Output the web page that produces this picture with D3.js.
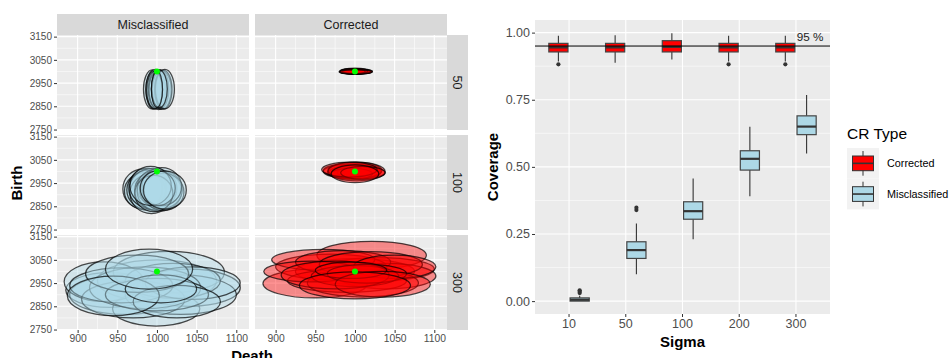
<!DOCTYPE html>
<html>
<head>
<meta charset="utf-8">
<script src="https://cdn.jsdelivr.net/npm/d3@7"></script>
<style>
  body { margin: 0; background: #fff; }
  svg { display: block; font-family: "Liberation Sans", Arial, Helvetica, sans-serif; }
</style>
</head>
<body>
<svg id="chart" width="951" height="358"></svg>
<script>
// ---------- Confidence regions (left figure) ----------
const crTypes = ["Misclassified", "Corrected"];
const sigmaRows = ["50", "100", "300"];
const trueDeath = 1000;
const trueBirth = 3000;
const deathTicks = [900, 950, 1000, 1050, 1100];
const deathMinor = [925, 975, 1025, 1075];
const birthTicks = [2750, 2850, 2950, 3050, 3150];
const birthMinor = [2800, 2900, 3000, 3100];

// each region: [centre death, centre birth, half-width (death), half-height (birth)]
const misclassified50 = [
  [994, 2923, 11, 84], [996, 2921, 10, 83], [998, 2924, 12, 85], [1000, 2922, 11, 82],
  [1002, 2920, 12, 84], [1004, 2923, 11, 85], [1006, 2921, 12, 83], [1008, 2922, 11, 84],
  [1010, 2924, 12, 85], [997, 2920, 10, 80], [1003, 2925, 10, 81], [1000, 2923, 7, 78]
];
const misclassified100 = [
  [982, 2925, 25, 85], [985, 2915, 26, 80], [988, 2930, 24, 83], [990, 2920, 28, 86],
  [993, 2905, 27, 86], [995, 2925, 30, 88], [998, 2918, 26, 84], [1000, 2930, 25, 80],
  [1003, 2915, 28, 86], [1005, 2922, 27, 83], [1008, 2912, 26, 80], [1006, 2935, 25, 82],
  [996, 2905, 24, 78], [992, 2938, 26, 84], [1001, 2928, 22, 75], [1010, 2920, 27, 82]
];
const misclassified300 = [
  [940, 2920, 55, 75], [960, 2900, 70, 85], [1000, 2960, 75, 90], [1015, 2997, 70, 90],
  [999, 2840, 55, 75], [933, 2956, 50, 85], [1040, 2930, 65, 80], [1030, 2900, 70, 85],
  [970, 2880, 65, 80], [1020, 2960, 60, 75], [985, 2930, 70, 90], [1045, 2950, 60, 70],
  [955, 2940, 65, 75], [1000, 2900, 65, 70], [975, 2990, 65, 80], [1025, 2870, 55, 70],
  [945, 2895, 58, 85], [1005, 2925, 45, 60], [990, 3010, 55, 86]
];
const corrected50 = [
  [999, 3000, 18, 10], [1001, 3001, 19, 11], [1000, 2999, 20, 10], [1003, 3000, 19, 9],
  [998, 3001, 17, 11], [1002, 2999, 18, 10], [1004, 3000, 18, 9], [1000, 3002, 16, 12],
  [997, 3000, 16, 10], [1001, 2998, 20, 9]
];
const corrected100 = [
  [995, 3000, 35, 30], [1000, 2998, 32, 28], [1003, 3002, 30, 32], [998, 2995, 33, 26],
  [1005, 2998, 28, 30], [990, 3004, 30, 28], [1008, 2996, 30, 25], [1000, 3005, 34, 35],
  [996, 2990, 26, 24], [1002, 3000, 36, 40], [993, 3008, 35, 32], [1010, 2994, 28, 28],
  [1000, 2990, 30, 38]
];
const corrected300 = [
  [1021, 3070, 69, 60], [950, 2948, 66, 62], [1000, 3000, 75, 55], [1030, 3010, 70, 50],
  [970, 3020, 70, 55], [1040, 2980, 62, 55], [990, 2960, 75, 50], [960, 3050, 65, 45],
  [1010, 2950, 70, 60], [985, 3040, 60, 50], [1020, 3030, 65, 55], [945, 3000, 60, 45],
  [1050, 3020, 52, 50], [1000, 2980, 55, 45], [975, 2985, 68, 60], [1015, 2990, 50, 40],
  [995, 3005, 45, 35], [1035, 2945, 60, 55], [1000, 2940, 70, 58]
];

// ---------- Coverage (right figure) ----------
const sigmas = ["10", "50", "100", "200", "300"];
// [lower whisker, first quartile, median, third quartile, upper whisker]
const correctedBoxes = [
  [0.892, 0.928, 0.945, 0.96, 0.988],
  [0.888, 0.928, 0.945, 0.96, 0.99],
  [0.90, 0.928, 0.947, 0.97, 0.998],
  [0.892, 0.928, 0.945, 0.96, 0.988],
  [0.892, 0.928, 0.945, 0.96, 0.988]
];
const correctedOutliers = [[0.882], [], [], [0.882], [0.882]];
const misclassifiedBoxes = [
  [0.0, 0.0, 0.005, 0.012, 0.02],
  [0.10, 0.159, 0.19, 0.221, 0.289],
  [0.23, 0.305, 0.335, 0.37, 0.457],
  [0.391, 0.488, 0.53, 0.56, 0.649],
  [0.55, 0.62, 0.65, 0.69, 0.768]
];
const misclassifiedOutliers = [[0.03, 0.035, 0.04], [0.339, 0.348], [], [], []];
const coverageTicks = [0, 0.25, 0.5, 0.75, 1.0];
const coverageMinor = [0.125, 0.375, 0.625, 0.875];
const nominalLevel = 0.95;

const fills = { Corrected: "#FF0000", Misclassified: "#ADD8E6" };

const regions = {
  Misclassified: { "50": misclassified50, "100": misclassified100, "300": misclassified300 },
  Corrected: { "50": corrected50, "100": corrected100, "300": corrected300 }
};

const svg = d3.select("#chart");
const panelBg = "#EBEBEB", stripBg = "#D9D9D9";
const tickText = "#4D4D4D", tickLine = "#333333";

// ---------- left figure: facet grid ----------
const colX = [[57, 249], [255, 447]];
const rowY = [[35, 130], [135, 230], [235, 330]];
const stripTop = [14, 35];
const stripRight = [447, 468];

crTypes.forEach((type, ci) => {
  const [x0, x1] = colX[ci];
  // column strip
  svg.append("rect").attr("x", x0).attr("y", stripTop[0])
    .attr("width", x1 - x0).attr("height", stripTop[1] - stripTop[0]).attr("fill", stripBg);
  svg.append("text").attr("x", (x0 + x1) / 2).attr("y", (stripTop[0] + stripTop[1]) / 2 + 4.3)
    .attr("text-anchor", "middle").attr("font-size", 12.5).attr("fill", "#1A1A1A").text(type);

  sigmaRows.forEach((sg, ri) => {
    const [y0, y1] = rowY[ri];
    const x = d3.scaleLinear().domain([874, 1116]).range([x0, x1]);
    const y = d3.scaleLinear().domain([2748, 3157]).range([y1, y0]);
    const g = svg.append("g");
    g.append("rect").attr("x", x0).attr("y", y0).attr("width", x1 - x0).attr("height", y1 - y0)
      .attr("fill", panelBg);
    // grid
    g.selectAll(".vmin").data(deathMinor).join("line")
      .attr("x1", d => x(d)).attr("x2", d => x(d)).attr("y1", y0).attr("y2", y1)
      .attr("stroke", "#fff").attr("stroke-width", 0.55);
    g.selectAll(".hmin").data(birthMinor).join("line")
      .attr("y1", d => y(d)).attr("y2", d => y(d)).attr("x1", x0).attr("x2", x1)
      .attr("stroke", "#fff").attr("stroke-width", 0.55);
    g.selectAll(".vmaj").data(deathTicks).join("line")
      .attr("x1", d => x(d)).attr("x2", d => x(d)).attr("y1", y0).attr("y2", y1)
      .attr("stroke", "#fff").attr("stroke-width", 1.1);
    g.selectAll(".hmaj").data(birthTicks).join("line")
      .attr("y1", d => y(d)).attr("y2", d => y(d)).attr("x1", x0).attr("x2", x1)
      .attr("stroke", "#fff").attr("stroke-width", 1.1);

    // confidence regions
    g.append("g").selectAll("ellipse").data(regions[type][sg]).join("ellipse")
      .attr("cx", d => x(d[0])).attr("cy", d => y(d[1]))
      .attr("rx", d => x(d[0] + d[2]) - x(d[0]))
      .attr("ry", d => y(d[1]) - y(d[1] + d[3]))
      .attr("fill", fills[type]).attr("fill-opacity", 0.42)
      .attr("stroke", "#000").attr("stroke-opacity", 0.7).attr("stroke-width", 1.25);

    // true parameter value
    g.append("circle").attr("cx", x(trueDeath)).attr("cy", y(trueBirth)).attr("r", 3)
      .attr("fill", "#00FF00");

    // y axis on the first column
    if (ci === 0) {
      const ax = svg.append("g").attr("transform", `translate(${x0},0)`)
        .call(d3.axisLeft(y).tickValues(birthTicks).tickFormat(d3.format("d")).tickSize(3).tickPadding(2));
      ax.select(".domain").remove();
      ax.selectAll("line").attr("stroke", tickLine);
      ax.selectAll("text").attr("fill", tickText).attr("font-size", 10)
        .attr("font-family", "Liberation Sans, Arial, sans-serif");
    }
    // x axis on the bottom row
    if (ri === sigmaRows.length - 1) {
      const ax = svg.append("g").attr("transform", `translate(0,${y1})`)
        .call(d3.axisBottom(x).tickValues(deathTicks).tickFormat(d3.format("d")).tickSize(3).tickPadding(2));
      ax.select(".domain").remove();
      ax.selectAll("line").attr("stroke", tickLine);
      ax.selectAll("text").attr("fill", tickText).attr("font-size", 10.3)
        .attr("font-family", "Liberation Sans, Arial, sans-serif");
    }
    // row strips on the right
    if (ci === crTypes.length - 1) {
      svg.append("rect").attr("x", stripRight[0]).attr("y", y0)
        .attr("width", stripRight[1] - stripRight[0]).attr("height", y1 - y0).attr("fill", stripBg);
      svg.append("text")
        .attr("transform", `translate(${(stripRight[0] + stripRight[1]) / 2 - 4.3},${(y0 + y1) / 2}) rotate(90)`)
        .attr("text-anchor", "middle").attr("font-size", 12.5).attr("fill", "#1A1A1A").text(sg);
    }
  });
});

svg.append("text").attr("x", 252).attr("y", 360.5).attr("text-anchor", "middle")
  .attr("font-size", 15).attr("font-weight", "bold").attr("fill", "#000").text("Death");
svg.append("text").attr("transform", "translate(21.5,183) rotate(-90)").attr("text-anchor", "middle")
  .attr("font-size", 15).attr("font-weight", "bold").attr("fill", "#000").text("Birth");

// ---------- right figure: coverage boxplots ----------
const px0 = 535, px1 = 830, py0 = 20, py1 = 314;
const xb = d3.scaleBand().domain(sigmas).range([px0, px1]).paddingInner(0).paddingOuter(0.1);
const yc = d3.scaleLinear().domain([-0.048, 1.047]).range([py1, py0]);
const bw = xb.bandwidth();
const dodge = d3.scaleBand().domain(["Corrected", "Misclassified"]).range([-0.375 * bw, 0.375 * bw]);
const boxW = dodge.bandwidth() * 0.9;

const rg = svg.append("g");
rg.append("rect").attr("x", px0).attr("y", py0).attr("width", px1 - px0).attr("height", py1 - py0)
  .attr("fill", panelBg);
rg.selectAll(".hmin").data(coverageMinor).join("line")
  .attr("x1", px0).attr("x2", px1).attr("y1", d => yc(d)).attr("y2", d => yc(d))
  .attr("stroke", "#fff").attr("stroke-width", 0.55);
rg.selectAll(".hmaj").data(coverageTicks).join("line")
  .attr("x1", px0).attr("x2", px1).attr("y1", d => yc(d)).attr("y2", d => yc(d))
  .attr("stroke", "#fff").attr("stroke-width", 1.1);
rg.selectAll(".vmaj").data(sigmas).join("line")
  .attr("x1", d => xb(d) + bw / 2).attr("x2", d => xb(d) + bw / 2).attr("y1", py0).attr("y2", py1)
  .attr("stroke", "#fff").attr("stroke-width", 1.1);

function drawBoxes(type, stats, outliers) {
  sigmas.forEach((s, i) => {
    const [lo, q1, med, q3, hi] = stats[i];
    const cx = xb(s) + bw / 2 + dodge(type) + dodge.bandwidth() / 2;
    const g = rg.append("g");
    g.append("line").attr("x1", cx).attr("x2", cx).attr("y1", yc(hi)).attr("y2", yc(q3))
      .attr("stroke", "#333").attr("stroke-width", 1.1);
    g.append("line").attr("x1", cx).attr("x2", cx).attr("y1", yc(q1)).attr("y2", yc(lo))
      .attr("stroke", "#333").attr("stroke-width", 1.1);
    g.append("rect").attr("x", cx - boxW / 2).attr("y", yc(q3)).attr("width", boxW)
      .attr("height", yc(q1) - yc(q3)).attr("fill", fills[type])
      .attr("stroke", "#444").attr("stroke-width", 1.2);
    g.append("line").attr("x1", cx - boxW / 2).attr("x2", cx + boxW / 2)
      .attr("y1", yc(med)).attr("y2", yc(med)).attr("stroke", "#333").attr("stroke-width", 2.2);
    g.selectAll("circle").data(outliers[i]).join("circle")
      .attr("cx", cx).attr("cy", d => yc(d)).attr("r", 2.1).attr("fill", "#333");
  });
}
drawBoxes("Corrected", correctedBoxes, correctedOutliers);
drawBoxes("Misclassified", misclassifiedBoxes, misclassifiedOutliers);

// nominal coverage line
rg.append("line").attr("x1", px0).attr("x2", px1).attr("y1", yc(nominalLevel)).attr("y2", yc(nominalLevel))
  .attr("stroke", "#000").attr("stroke-width", 1);
rg.append("text").attr("x", 810).attr("y", 40.5).attr("text-anchor", "middle")
  .attr("font-size", 11.7).attr("fill", "#222").text("95 %");

const ayc = svg.append("g").attr("transform", `translate(${px0},0)`)
  .call(d3.axisLeft(yc).tickValues(coverageTicks).tickFormat(d3.format(".2f")).tickSize(3).tickPadding(2));
ayc.select(".domain").remove();
ayc.selectAll("line").attr("stroke", tickLine);
ayc.selectAll("text").attr("fill", tickText).attr("font-size", 12.5)
  .attr("font-family", "Liberation Sans, Arial, sans-serif");

const axc = svg.append("g").attr("transform", `translate(0,${py1})`)
  .call(d3.axisBottom(xb).tickSize(3).tickPadding(2));
axc.select(".domain").remove();
axc.selectAll("line").attr("stroke", tickLine);
axc.selectAll("text").attr("fill", tickText).attr("font-size", 12.5)
  .attr("font-family", "Liberation Sans, Arial, sans-serif");

svg.append("text").attr("x", (px0 + px1) / 2).attr("y", 346.5).attr("text-anchor", "middle")
  .attr("font-size", 15).attr("font-weight", "bold").attr("fill", "#000").text("Sigma");
svg.append("text").attr("transform", `translate(498,${(py0 + py1) / 2}) rotate(-90)`)
  .attr("text-anchor", "middle").attr("font-size", 15).attr("font-weight", "bold")
  .attr("fill", "#000").text("Coverage");

// legend
const legendTypes = ["Corrected", "Misclassified"];
const lg = svg.append("g");
lg.append("text").attr("x", 847).attr("y", 139).attr("font-size", 15.5).attr("fill", "#000").text("CR Type");
legendTypes.forEach((t, i) => {
  const ky = 148 + i * 30.7, kx = 847, kw = 32, kh = 30.7;
  lg.append("rect").attr("x", kx).attr("y", ky).attr("width", kw).attr("height", kh).attr("fill", "#F2F2F2");
  const cx = kx + kw / 2;
  lg.append("line").attr("x1", cx).attr("x2", cx).attr("y1", ky + 3).attr("y2", ky + kh - 3)
    .attr("stroke", "#333").attr("stroke-width", 1);
  lg.append("rect").attr("x", kx + 5.5).attr("y", ky + 8).attr("width", kw - 11).attr("height", kh - 16)
    .attr("fill", fills[t]).attr("stroke", "#333").attr("stroke-width", 1);
  lg.append("line").attr("x1", kx + 5.5).attr("x2", kx + kw - 5.5).attr("y1", ky + kh / 2).attr("y2", ky + kh / 2)
    .attr("stroke", "#333").attr("stroke-width", 1.6);
  lg.append("text").attr("x", 887).attr("y", ky + kh / 2 + 3.8).attr("font-size", 10.8)
    .attr("fill", "#000").text(t);
});
</script>
</body>
</html>
